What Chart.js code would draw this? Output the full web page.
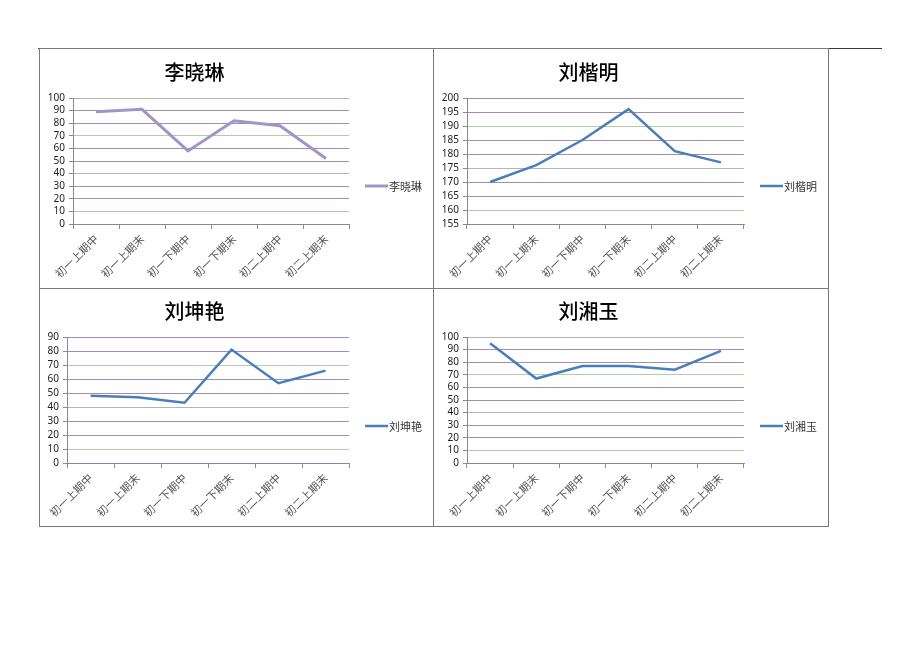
<!DOCTYPE html>
<html>
<head>
<meta charset="utf-8">
<script src="https://cdn.jsdelivr.net/npm/chart.js@4.4.1/dist/chart.umd.min.js"></script>
<style>
  html, body { margin: 0; padding: 0; background: #ffffff; }
  body { width: 920px; height: 651px; position: relative; overflow: hidden; }
  .pageline { position: absolute; left: 38px; top: 48px; width: 844px; height: 1px; background: #3a3a3a; }
  .box { position: absolute; }
  .box canvas { position: absolute; left: 0; top: 0; }
  .frame { position: absolute; box-sizing: border-box; border: 1px solid #7a7a7a; pointer-events: none; }
</style>
</head>
<body>
<div class="pageline"></div>
<div class="box" id="b1" style="left:40px;top:49px;width:393px;height:239px;"><canvas id="c1" width="393" height="239"></canvas></div>
<div class="box" id="b2" style="left:433px;top:49px;width:395px;height:239px;"><canvas id="c2" width="395" height="239"></canvas></div>
<div class="box" id="b3" style="left:40px;top:289px;width:393px;height:237px;"><canvas id="c3" width="393" height="237"></canvas></div>
<div class="box" id="b4" style="left:433px;top:289px;width:395px;height:237px;"><canvas id="c4" width="395" height="237"></canvas></div>
<div class="frame" style="left:39px;top:48px;width:395px;height:241px;"></div>
<div class="frame" style="left:433px;top:48px;width:396px;height:241px;"></div>
<div class="frame" style="left:39px;top:288px;width:395px;height:239px;"></div>
<div class="frame" style="left:433px;top:288px;width:396px;height:239px;"></div>
<script>
// ---- data ----
const categories = ['初一上期中', '初一上期末', '初一下期中', '初一下期末', '初二上期中', '初二上期末'];
const names = ['李晓琳', '刘楷明', '刘坤艳', '刘湘玉'];
const liXiaolin = [89, 91, 58, 82, 78, 52];
const liuKaiming = [170, 176, 185, 196, 181, 177];
const liuKunyan = [48, 47, 43, 81, 57, 66];
const liuXiangyu = [95, 67, 77, 77, 74, 89];
// y axis ranges: [min, max, step]
const yRange1 = [0, 100, 10];
const yRange2 = [155, 200, 5];
const yRange3 = [0, 90, 10];
const yRange4 = [0, 100, 10];

// ---- styles ----
const gridColors = ['#9a9a9a', '#a9d3a0', '#a48cb4', '#a48cb4', '#b4b4b4', '#a48cb4', '#a48cb4', '#a9d3a0', '#a48cb4', '#a48cb4', '#b4b4b4'];
const purpleLine = '#a095c8';
const blueLine = '#4a7ebb';
const cjk = "'Noto Sans CJK SC', 'Noto Sans', sans-serif";
const num = "'Noto Sans', 'DejaVu Sans', sans-serif";

const sideLegend = {
  id: 'sideLegend',
  afterDraw(chart, args, opts) {
    const c = chart.ctx;
    const ds = chart.data.datasets[0];
    const x = chart.chartArea.right + opts.offset;
    const y = opts.y;
    c.save();
    c.strokeStyle = ds.borderColor;
    c.lineWidth = ds.borderWidth;
    c.beginPath();
    c.moveTo(x, y);
    c.lineTo(x + opts.len, y);
    c.stroke();
    c.fillStyle = '#333333';
    c.font = "11px " + cjk;
    c.textBaseline = 'middle';
    c.textAlign = 'left';
    c.fillText(ds.label, x + opts.len + 1, y + 0.5);
    c.restore();
  }
};

function makeChart(id, label, values, range, color, width, layout) {
  const w = document.getElementById(id).width;
  const h = document.getElementById(id).height;
  return new Chart(document.getElementById(id), {
    type: 'line',
    data: {
      labels: categories,
      datasets: [{
        label: label,
        data: values,
        borderColor: color,
        backgroundColor: color,
        borderWidth: width,
        pointRadius: 0,
        pointHoverRadius: 0,
        tension: 0,
        fill: false
      }]
    },
    options: {
      responsive: false,
      animation: false,
      events: [],
      layout: { padding: { left: 0, right: w - layout.plotRight, top: 0, bottom: 0 } },
      plugins: {
        legend: { display: false },
        tooltip: { enabled: false },
        title: {
          display: true,
          text: label,
          color: '#000000',
          font: { family: cjk, size: 20, weight: '500', lineHeight: 1.2 },
          padding: { top: layout.titleTop, bottom: layout.plotTop - layout.titleTop - 24 }
        },
        sideLegend: { offset: 16, len: 23, y: 137 }
      },
      scales: {
        x: {
          type: 'category',
          offset: true,
          grid: { display: true, drawOnChartArea: false, drawTicks: true, tickLength: 5, color: '#8a8a8a', offset: true },
          border: { display: true, color: '#8a8a8a' },
          ticks: {
            minRotation: 45, maxRotation: 45, autoSkip: false,
            padding: 3,
            color: '#555555',
            font: { family: cjk, size: 11 }
          },
          afterFit: (s) => { s.height = h - layout.plotBottom; }
        },
        y: {
          min: range[0], max: range[1],
          grid: {
            display: true, drawTicks: true, tickLength: 4,
            color: (ctx) => gridColors[ctx.index % gridColors.length],
            tickColor: '#8a8a8a'
          },
          border: { display: true, color: '#8a8a8a' },
          ticks: {
            stepSize: range[2],
            autoSkip: false,
            padding: 4,
            color: '#222222',
            font: { family: num, size: 10 }
          },
          afterFit: (s) => { s.width = layout.plotLeft; }
        }
      }
    },
    plugins: [sideLegend]
  });
}

makeChart('c1', names[0], liXiaolin, yRange1, purpleLine, 3, { plotLeft: 33, plotRight: 309, plotTop: 49, plotBottom: 175, titleTop: 11 });
makeChart('c2', names[1], liuKaiming, yRange2, blueLine, 2.5, { plotLeft: 34, plotRight: 311, plotTop: 49, plotBottom: 175, titleTop: 11 });
makeChart('c3', names[2], liuKunyan, yRange3, blueLine, 2.5, { plotLeft: 27, plotRight: 309, plotTop: 48, plotBottom: 174, titleTop: 10 });
makeChart('c4', names[3], liuXiangyu, yRange4, blueLine, 2.5, { plotLeft: 34, plotRight: 311, plotTop: 48, plotBottom: 174, titleTop: 10 });
</script>
</body>
</html>
